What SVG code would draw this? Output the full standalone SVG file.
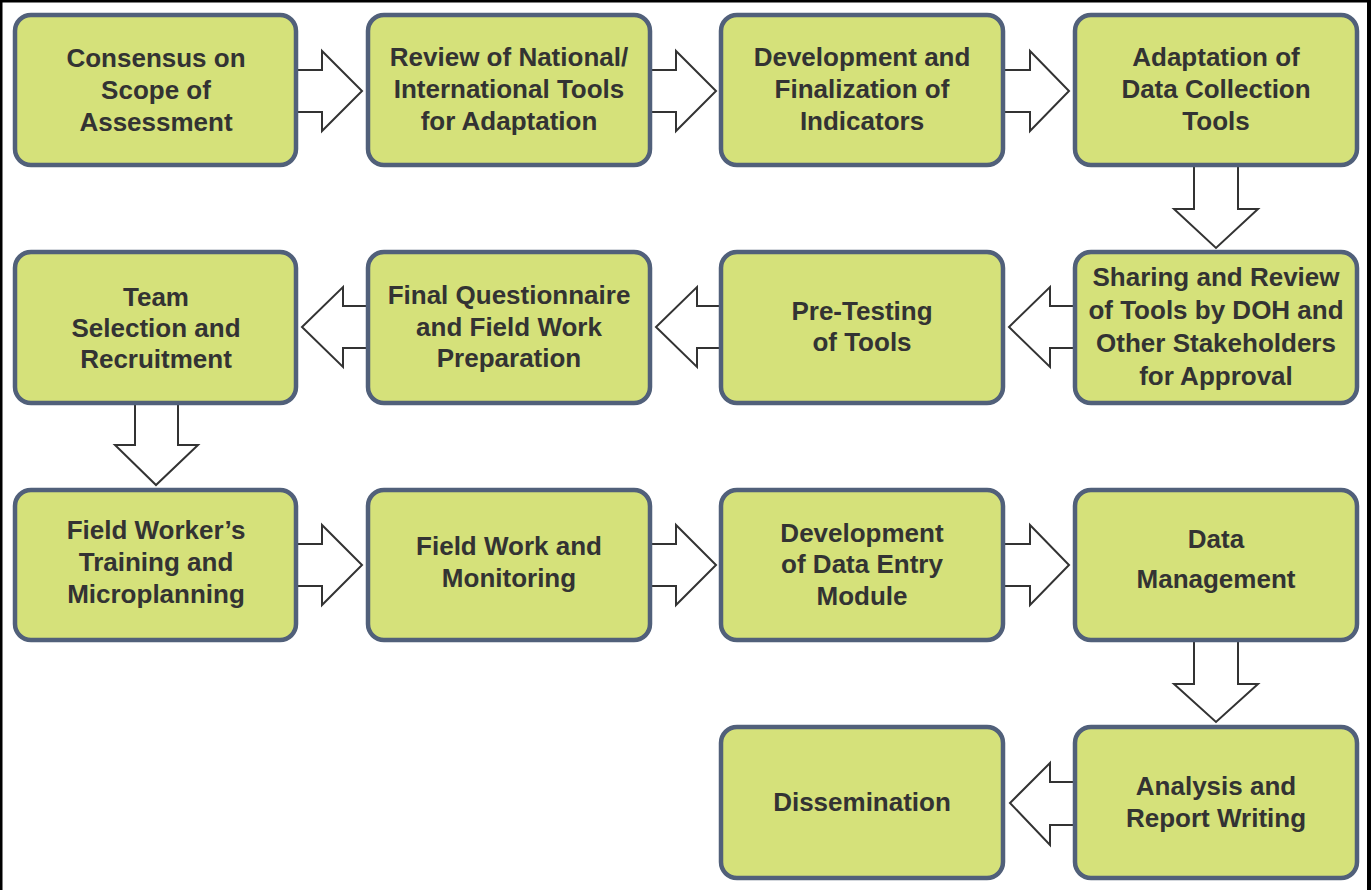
<svg xmlns="http://www.w3.org/2000/svg" width="1371" height="890" viewBox="0 0 1371 890">
<style>
.box{fill:#d5e17a;stroke:#51607a;stroke-width:4.5}
.arr{fill:#ffffff;stroke:#333333;stroke-width:2;stroke-linejoin:miter}
text{font-family:"Liberation Sans",Arial,sans-serif;font-weight:bold;font-size:26px;fill:#333333;text-anchor:middle}
</style>
<rect x="0" y="0" width="1371" height="890" fill="#ffffff"/>
<g id="frame" fill="#000000">
<rect x="0" y="0" width="1371" height="2.5"/>
<rect x="0" y="0" width="2.5" height="890"/>
<rect x="1367" y="0" width="4" height="890"/>
</g>
<g id="connectors">
<polygon class="arr" points="292,70 322,70 322,51 362,91 322,131 322,112 292,112"/>
<polygon class="arr" points="646,70 676,70 676,51 716,91 676,131 676,112 646,112"/>
<polygon class="arr" points="999,70 1030,70 1030,51 1069,91 1030,131 1030,112 999,112"/>
<polygon class="arr" points="1194,160 1238,160 1238,209 1258,209 1216,248 1174,209 1194,209"/>
<polygon class="arr" points="1080,306 1050,306 1050,287 1009,327 1050,367 1050,348 1080,348"/>
<polygon class="arr" points="726,306 697,306 697,287 656,327 697,367 697,348 726,348"/>
<polygon class="arr" points="372,306 343,306 343,287 302,327 343,367 343,348 372,348"/>
<polygon class="arr" points="135,398 178,398 178,445 198,445 156,485 115,445 135,445"/>
<polygon class="arr" points="292,544 322,544 322,525 362,565 322,605 322,586 292,586"/>
<polygon class="arr" points="646,544 676,544 676,525 716,565 676,605 676,586 646,586"/>
<polygon class="arr" points="999,544 1030,544 1030,525 1069,565 1030,605 1030,586 999,586"/>
<polygon class="arr" points="1194,636 1238,636 1238,684 1258,684 1216,722 1174,684 1194,684"/>
<polygon class="arr" points="1080,782 1050,782 1050,763 1010,803 1050,845 1050,825 1080,825"/>
</g>
<g id="n1"><rect class="box" x="15" y="15" width="281" height="150" rx="16"/>
<text x="156" y="67">Consensus on</text><text x="156" y="99">Scope of</text><text x="156" y="131">Assessment</text></g>
<g id="n2"><rect class="box" x="368" y="15" width="282" height="150" rx="16"/>
<text x="509" y="66">Review of National/</text><text x="509" y="98">International Tools</text><text x="509" y="130">for Adaptation</text></g>
<g id="n3"><rect class="box" x="721" y="15" width="282" height="150" rx="16"/>
<text x="862" y="66">Development and</text><text x="862" y="98">Finalization of</text><text x="862" y="130">Indicators</text></g>
<g id="n4"><rect class="box" x="1075" y="15" width="282" height="150" rx="16"/>
<text x="1216" y="66">Adaptation of</text><text x="1216" y="98">Data Collection</text><text x="1216" y="130">Tools</text></g>
<g id="n5"><rect class="box" x="1075" y="252" width="282" height="151" rx="16"/>
<text x="1216" y="286">Sharing and Review</text><text x="1216" y="319">of Tools by DOH and</text><text x="1216" y="352">Other Stakeholders</text><text x="1216" y="385">for Approval</text></g>
<g id="n6"><rect class="box" x="721" y="252" width="282" height="151" rx="16"/>
<text x="862" y="320">Pre-Testing</text><text x="862" y="351">of Tools</text></g>
<g id="n7"><rect class="box" x="368" y="252" width="282" height="151" rx="16"/>
<text x="509" y="304">Final Questionnaire</text><text x="509" y="336">and Field Work</text><text x="509" y="367">Preparation</text></g>
<g id="n8"><rect class="box" x="15" y="252" width="281" height="151" rx="16"/>
<text x="156" y="306">Team</text><text x="156" y="337">Selection and</text><text x="156" y="368">Recruitment</text></g>
<g id="n9"><rect class="box" x="15" y="490" width="281" height="150" rx="16"/>
<text x="156" y="539">Field Worker’s</text><text x="156" y="571">Training and</text><text x="156" y="603">Microplanning</text></g>
<g id="n10"><rect class="box" x="368" y="490" width="282" height="150" rx="16"/>
<text x="509" y="555">Field Work and</text><text x="509" y="587">Monitoring</text></g>
<g id="n11"><rect class="box" x="721" y="490" width="282" height="150" rx="16"/>
<text x="862" y="542">Development</text><text x="862" y="573">of Data Entry</text><text x="862" y="605">Module</text></g>
<g id="n12"><rect class="box" x="1075" y="490" width="282" height="150" rx="16"/>
<text x="1216" y="548">Data</text><text x="1216" y="588">Management</text></g>
<g id="n13"><rect class="box" x="1075" y="727" width="282" height="151" rx="16"/>
<text x="1216" y="795">Analysis and</text><text x="1216" y="827">Report Writing</text></g>
<g id="n14"><rect class="box" x="721" y="727" width="282" height="151" rx="16"/>
<text x="862" y="811">Dissemination</text></g>
</svg>
